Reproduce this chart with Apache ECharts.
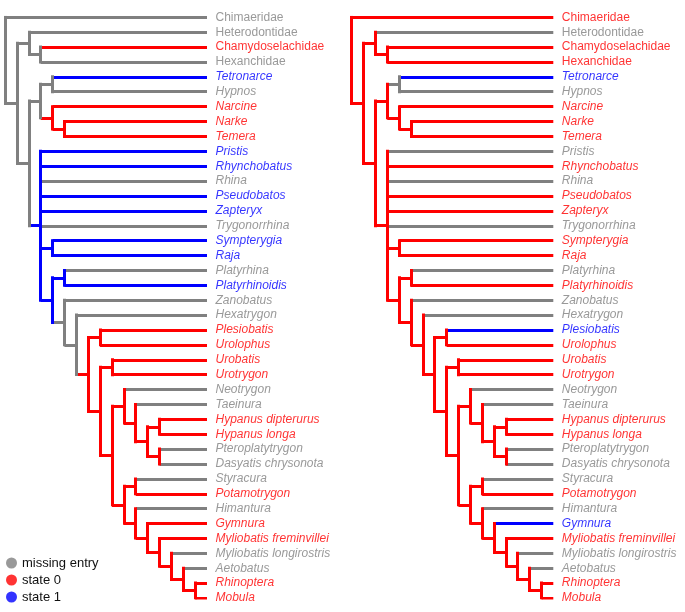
<!DOCTYPE html>
<html><head><meta charset="utf-8">
<script src="https://cdn.jsdelivr.net/npm/echarts@6/dist/echarts.min.js"></script>
<style>html,body{margin:0;padding:0;background:#fff}#c{width:685px;height:612px}</style>
</head><body><div id="c"></div>
<script>
// ---- tips (top to bottom) ----
const tipNames = ['Chimaeridae','Heterodontidae','Chamydoselachidae','Hexanchidae','Tetronarce','Hypnos','Narcine','Narke','Temera','Pristis','Rhynchobatus','Rhina','Pseudobatos','Zapteryx','Trygonorrhina','Sympterygia','Raja','Platyrhina','Platyrhinoidis','Zanobatus','Hexatrygon','Plesiobatis','Urolophus','Urobatis','Urotrygon','Neotrygon','Taeinura','Hypanus dipterurus','Hypanus longa','Pteroplatytrygon','Dasyatis chrysonota','Styracura','Potamotrygon','Himantura','Gymnura','Myliobatis freminvillei','Myliobatis longirostris','Aetobatus','Rhinoptera','Mobula'];
const uprightTips = ['Chimaeridae','Heterodontidae','Chamydoselachidae','Hexanchidae'];
const tipParents = ['Root','S','CH','CH','TH','TH','NC','NT','NT','Rr','Rr','Rr','Rr','Rr','Rr','SR','SR','PP','PP','Z','H','PU','PU','UU','UU','X','Y2','HH','HH','PD','PD','SP','SP','M','M2','M3','M4','M5','RM','RM'];
const tipLevel = 17;
// ---- internal nodes ----
const nodeNames   = ['Root','A','S','CH','B','T','TH','NC','NT','Rr','SR','Q','PP','Z','H','U','PU','V','UU','W','X','Y2','Y3','HH','PD','Y','SP','M','M2','M3','M4','M5','RM'];
const nodeParents = [null,'Root','A','S','A','B','T','T','NC','B','Rr','Rr','Q','Q','Z','H','U','U','V','V','W','X','Y2','Y3','Y3','W','Y','Y','M','M2','M3','M4','M5'];
const nodeLevels  = [0,1,2,3,2,3,4,4,5,3,4,4,5,5,6,7,8,8,9,9,10,11,12,13,13,10,11,11,12,13,14,15,16];
// ---- states (null = missing entry) ----
const leftNodeStates  = [null,null,null,null,null,null,null,0,0,1,1,1,1,null,null,0,0,0,0,0,0,0,0,0,0,0,0,0,0,0,0,0,0];
const leftTipStates   = [null,null,0,null,1,null,0,0,0,1,1,null,1,1,null,1,1,null,1,null,null,0,0,0,0,null,null,0,0,null,null,null,0,null,0,0,null,null,0,0];
const rightNodeStates = [0,0,0,0,0,0,null,0,0,0,0,0,0,0,0,0,0,0,0,0,0,0,0,0,0,0,0,0,0,0,0,0,0];
const rightTipStates  = [0,null,0,0,1,null,0,0,0,null,0,null,0,0,null,0,0,null,0,null,null,1,0,0,0,null,null,0,0,null,null,null,0,null,1,0,null,null,0,0];
const legendNames = ['missing entry','state 0','state 1'];

const GREY = '#808080', RED = '#ff0000', BLUE = '#0000ff';
const legendColors = [GREY, RED, BLUE];
function col(s){ return s === null ? GREY : (s === 0 ? RED : BLUE); }
const FONT = '"Liberation Sans", Arial, sans-serif';

// layout: node y = middle of its children
const idx = {}; nodeNames.forEach((n,i)=>idx[n]=i);
const children = nodeNames.map(()=>[]);
nodeParents.forEach((p,i)=>{ if(p!==null) children[idx[p]].push({node:i}); });
tipParents.forEach((p,i)=>{ children[idx[p]].push({tip:i}); });
const nodeY = new Array(nodeNames.length);
function yOf(c){ return c.tip !== undefined ? c.tip : calcY(c.node); }
function calcY(i){
  if (nodeY[i] !== undefined) return nodeY[i];
  const ys = children[i].map(yOf);
  nodeY[i] = (Math.min(...ys) + Math.max(...ys)) / 2;
  return nodeY[i];
}
nodeNames.forEach((_,i)=>calcY(i));

function build(nodeStates, tipStates, gi){
  const h = [], v = [], labels = [];
  nodeNames.forEach((n,i)=>{
    const ys = children[i].map(yOf);
    v.push({coords:[[nodeLevels[i], Math.min(...ys)],[nodeLevels[i], Math.max(...ys)]], lineStyle:{color:col(nodeStates[i])}});
    if (nodeParents[i] !== null) {
      h.push({coords:[[nodeLevels[idx[nodeParents[i]]], nodeY[i]],[nodeLevels[i], nodeY[i]]], lineStyle:{color:col(nodeStates[i])}});
    }
  });
  tipNames.forEach((t,i)=>{
    h.push({coords:[[nodeLevels[idx[tipParents[i]]], i],[tipLevel, i]], lineStyle:{color:col(tipStates[i])}});
    labels.push({value:[tipLevel, i], name:t, label:{color:col(tipStates[i]), fontStyle: uprightTips.includes(t) ? 'normal' : 'italic'}});
  });
  return [
    {type:'lines', coordinateSystem:'cartesian2d', xAxisIndex:gi, yAxisIndex:gi, polyline:false, silent:true, z:2,
     lineStyle:{width:3, opacity:1, cap:'butt', curveness:0}, data:h},
    {type:'lines', coordinateSystem:'cartesian2d', xAxisIndex:gi, yAxisIndex:gi, polyline:false, silent:true, z:3,
     lineStyle:{width:3, opacity:1, cap:'square', curveness:0}, data:v},
    {type:'scatter', xAxisIndex:gi, yAxisIndex:gi, symbolSize:1, itemStyle:{color:'rgba(0,0,0,0)'}, silent:true, z:4,
     label:{show:true, position:'right', distance:8, fontSize:12, fontFamily:FONT, formatter:p=>p.name}, data:labels}
  ];
}

const series = [].concat(build(leftNodeStates, leftTipStates, 0), build(rightNodeStates, rightTipStates, 1));
legendNames.forEach((n,i)=>series.push({type:'scatter', name:n, data:[], itemStyle:{color:legendColors[i]}}));

const chart = echarts.init(document.getElementById('c'), null, {renderer:'canvas'});
chart.setOption({
  animation:false,
  backgroundColor:'#fff',
  grid:[
    {left:5, width:202, top:17.3, height:580.7},
    {left:351.7, width:201.6, top:17.3, height:580.7}
  ],
  xAxis:[
    {type:'value', gridIndex:0, min:0, max:17, show:false},
    {type:'value', gridIndex:1, min:0, max:17, show:false}
  ],
  yAxis:[
    {type:'value', gridIndex:0, min:0, max:39, inverse:true, show:false},
    {type:'value', gridIndex:1, min:0, max:39, inverse:true, show:false}
  ],
  legend:{data:legendNames, orient:'vertical', left:6, top:555.5, height:56, padding:0, icon:'circle', itemWidth:11, itemHeight:11, itemGap:2,
    selectedMode:false, textStyle:{fontSize:13, lineHeight:15, fontFamily:FONT, color:'#111'}},
  series:series
});
</script></body></html>
